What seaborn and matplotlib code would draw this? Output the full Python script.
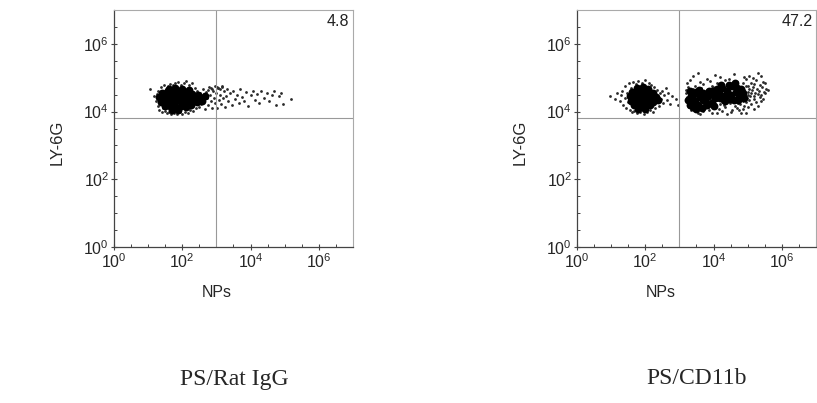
import numpy as np
import pandas as pd
import matplotlib.pyplot as plt
import seaborn as sns

# log10 values (x = NPs, y = LY-6G)
# PS/Rat IgG: dense core
igg_core_x = [1.60, 1.80, 2.00, 2.20,
              1.40, 1.55, 1.70, 1.85, 2.00, 2.15, 2.30, 2.45,
              1.32, 1.47, 1.62, 1.77, 1.92, 2.07, 2.22, 2.37, 2.52, 2.66,
              1.38, 1.53, 1.68, 1.83, 1.98, 2.13, 2.28, 2.43, 2.58,
              1.50, 1.65, 1.80, 1.95, 2.10, 2.25, 1.70, 1.88]
igg_core_y = [4.68, 4.70, 4.66, 4.64,
              4.55, 4.57, 4.53, 4.56, 4.54, 4.58, 4.52, 4.50,
              4.42, 4.40, 4.44, 4.41, 4.43, 4.40, 4.42, 4.39, 4.41, 4.45,
              4.29, 4.31, 4.28, 4.30, 4.27, 4.29, 4.31, 4.28, 4.30,
              4.16, 4.18, 4.14, 4.17, 4.15, 4.19, 4.06, 4.05]
# PS/Rat IgG: sparse events
igg_dot_x = [1.06, 1.18, 1.22, 1.25, 1.28, 1.30, 1.33, 1.36, 1.38, 1.40, 1.42, 1.45,
             1.48, 1.50, 1.52, 1.55, 1.58, 1.62, 1.65, 1.68, 1.72, 1.76, 1.80, 1.84,
             1.88, 1.92, 1.96, 2.00, 2.04, 2.08, 2.12, 2.16, 2.20, 2.24, 2.28, 2.32,
             2.36, 2.40, 2.44, 2.48, 2.52, 2.56, 2.60, 2.62, 2.65, 2.68, 2.70, 2.73,
             2.76, 2.79, 2.82, 2.85, 2.88, 2.91, 2.94, 2.97, 3.00, 3.03, 3.06, 3.08,
             3.11, 3.14, 3.17, 3.20, 3.23, 3.26, 3.29, 3.32, 3.35, 3.40, 3.45, 3.50,
             3.55, 3.60, 3.65, 3.70, 3.76, 3.82, 3.88, 3.94, 4.00, 4.06, 4.12, 4.18,
             4.25, 4.32, 4.40, 4.48, 4.55, 4.62, 4.70, 4.76, 4.82, 4.88, 4.95, 5.18,
             2.84, 2.88, 3.02, 3.06, 3.10, 2.75, 2.95, 3.15]
igg_dot_y = [4.66, 4.45, 4.30, 4.52, 4.18, 4.62, 4.05, 4.40, 4.72, 3.98, 4.58, 4.12,
             4.80, 4.02, 4.68, 3.95, 4.76, 4.00, 4.82, 3.92, 4.78, 3.97, 4.84, 3.94,
             4.88, 3.99, 4.80, 3.93, 4.86, 4.00, 4.90, 3.96, 4.78, 4.05, 4.84, 4.02,
             4.70, 4.10, 4.62, 4.15, 4.55, 4.22, 4.48, 4.68, 4.30, 4.08, 4.58, 4.40,
             4.20, 4.72, 4.50, 4.30, 4.12, 4.62, 4.40, 4.25, 4.55, 4.10, 4.70, 4.35,
             4.48, 4.22, 4.76, 4.40, 4.60, 4.15, 4.45, 4.68, 4.30, 4.55, 4.20, 4.62,
             4.38, 4.50, 4.25, 4.66, 4.42, 4.30, 4.58, 4.18, 4.48, 4.62, 4.35, 4.52,
             4.25, 4.60, 4.40, 4.55, 4.30, 4.48, 4.62, 4.20, 4.45, 4.55, 4.22, 4.38,
             4.70, 4.66, 4.74, 4.70, 4.68, 4.64, 4.76, 4.72]

# PS/CD11b: dense cores
cd_core_x = [1.75, 1.92, 2.08,
             1.62, 1.78, 1.94, 2.10, 2.24,
             1.55, 1.70, 1.86, 2.02, 2.18, 2.32,
             1.58, 1.74, 1.90, 2.06, 2.22, 2.36,
             1.66, 1.82, 1.98, 2.14, 1.80, 1.98,
             3.35, 3.45, 3.50, 3.40, 3.60, 3.55, 3.70, 3.75, 3.85, 3.30, 3.65,
             4.15, 4.25, 4.30, 4.40, 4.50, 4.55, 4.65, 4.75, 4.80, 4.35, 4.60,
             3.95, 4.05, 3.95,
             3.25, 3.32, 3.42, 3.58, 3.68, 3.80, 3.88, 4.00, 4.10, 4.20,
             4.22, 4.45, 4.48, 4.70, 4.72, 4.85, 4.90, 3.48, 4.00, 4.62]
cd_core_y = [4.70, 4.72, 4.68,
             4.58, 4.56, 4.60, 4.57, 4.55,
             4.45, 4.43, 4.46, 4.44, 4.45, 4.42,
             4.32, 4.30, 4.33, 4.31, 4.29, 4.34,
             4.19, 4.21, 4.18, 4.20, 4.08, 4.07,
             4.45, 4.30, 4.58, 4.15, 4.42, 4.20, 4.55, 4.30, 4.45, 4.62, 4.12,
             4.55, 4.70, 4.45, 4.62, 4.50, 4.75, 4.58, 4.45, 4.68, 4.30, 4.35,
             4.60, 4.40, 4.25,
             4.35, 4.20, 4.52, 4.65, 4.35, 4.20, 4.62, 4.50, 4.68, 4.40,
             4.80, 4.78, 4.38, 4.70, 4.35, 4.55, 4.40, 4.08, 4.18, 4.85]
# PS/CD11b: sparse events
cd_dot_x = [0.97, 1.12, 1.18, 1.25, 1.28, 1.32, 1.36, 1.40, 1.42, 1.45, 1.48, 1.50,
            1.52, 1.55, 1.58, 1.60, 1.64, 1.68, 1.72, 1.76, 1.80, 1.85, 1.90, 1.95,
            2.00, 2.05, 2.10, 2.14, 2.18, 2.22, 2.26, 2.30, 2.35, 2.40, 2.43, 2.46,
            2.50, 2.53, 2.56, 2.60, 2.64, 2.68, 2.72, 2.78, 2.90, 2.95,
            3.55, 4.05, 4.60, 5.05, 5.30,
            3.40, 3.80, 4.20, 4.45, 4.90, 5.15, 5.40,
            3.30, 3.60, 3.90, 4.10, 4.35, 4.70, 4.95, 5.10, 5.25, 5.45,
            3.22, 3.45, 3.70, 3.95, 4.15, 4.40, 4.85, 5.00, 5.20, 5.35, 5.50,
            3.25, 3.40, 3.62, 3.80, 3.98, 4.08, 4.95, 5.05, 5.15, 5.28, 5.42, 5.55,
            3.20, 3.38, 3.85, 4.00, 4.88, 5.00, 5.12, 5.22, 5.32, 5.48, 5.60,
            3.18, 3.28, 3.92, 4.05, 4.92, 5.02, 5.10, 5.20, 5.30, 5.40, 5.52,
            3.22, 3.90, 4.02, 4.20, 4.88, 4.98, 5.08, 5.18, 5.35, 5.45,
            3.20, 3.30, 3.88, 4.00, 4.10, 4.25, 4.45, 4.72, 4.85, 4.95, 5.05, 5.25, 5.40,
            3.25, 3.80, 3.92, 4.05, 4.18, 4.30, 4.48, 4.62, 4.78, 4.90, 5.10, 5.30,
            3.28, 3.50, 3.75, 3.88, 4.00, 4.15, 4.35, 4.55, 4.70, 4.85, 5.00, 5.20,
            3.35, 3.55, 3.70, 3.95, 4.25, 4.50, 4.75, 4.95,
            3.60, 4.10, 4.40, 4.80]
cd_dot_y = [4.45, 4.38, 4.55, 4.30, 4.48, 4.62, 4.20, 4.40, 4.75, 4.10, 4.55, 4.28,
            4.85, 4.05, 4.70, 3.98, 4.88, 4.02, 4.82, 3.95, 4.90, 3.98, 4.86, 3.92,
            4.92, 3.99, 4.85, 4.04, 4.80, 4.00, 4.72, 4.10, 4.65, 4.18, 4.55, 4.38,
            4.62, 4.25, 4.48, 4.70, 4.35, 4.55, 4.22, 4.45, 4.38, 4.20,
            5.14, 5.07, 5.11, 5.05, 5.13,
            5.04, 4.97, 5.01, 4.95, 5.03, 4.99, 5.05,
            4.94, 4.87, 4.91, 4.85, 4.93, 4.89, 4.95, 4.86, 4.92, 4.88,
            4.84, 4.77, 4.81, 4.75, 4.83, 4.79, 4.85, 4.76, 4.82, 4.78, 4.84,
            4.74, 4.67, 4.71, 4.65, 4.73, 4.69, 4.75, 4.66, 4.72, 4.68, 4.74, 4.67,
            4.64, 4.57, 4.61, 4.55, 4.63, 4.59, 4.65, 4.56, 4.62, 4.58, 4.64,
            4.54, 4.47, 4.51, 4.45, 4.53, 4.49, 4.55, 4.46, 4.52, 4.48, 4.54,
            4.44, 4.37, 4.41, 4.35, 4.43, 4.39, 4.45, 4.36, 4.42, 4.38,
            4.34, 4.27, 4.31, 4.25, 4.33, 4.29, 4.35, 4.26, 4.32, 4.28, 4.34, 4.27, 4.30,
            4.24, 4.17, 4.21, 4.15, 4.23, 4.19, 4.25, 4.16, 4.22, 4.18, 4.24, 4.17,
            4.14, 4.07, 4.11, 4.05, 4.13, 4.09, 4.15, 4.06, 4.12, 4.08, 4.14, 4.07,
            4.04, 3.97, 4.01, 3.95, 4.03, 3.99, 4.05, 3.96,
            3.93, 3.97, 3.92, 3.96]

panels = [
    ("PS/Rat IgG", "4.8", igg_core_x, igg_core_y, igg_dot_x, igg_dot_y),
    ("PS/CD11b", "47.2", cd_core_x, cd_core_y, cd_dot_x, cd_dot_y),
]
quad_x = 1e3
quad_y = 6.6e3

sns.set_style("white")
plt.rcParams['font.family'] = ['Liberation Sans', 'DejaVu Sans']

fig = plt.figure(figsize=(8.17, 4.03), dpi=100)
lefts = [0.1395, 0.7062]
label_x = [0.43, 0.35]
caption_x = [234 / 817, 697 / 817]

for i, (name, pct, cx, cy, dx, dy) in enumerate(panels):
    ax = fig.add_axes([lefts[i], 0.387, 0.2925, 0.588])
    core = pd.DataFrame({"NPs": 10 ** np.array(cx), "LY-6G": 10 ** np.array(cy)})
    dots = pd.DataFrame({"NPs": 10 ** np.array(dx), "LY-6G": 10 ** np.array(dy)})
    sns.scatterplot(data=dots, x="NPs", y="LY-6G", ax=ax, s=4, color="#2a2a2a",
                    linewidth=0, legend=False)
    sns.scatterplot(data=core, x="NPs", y="LY-6G", ax=ax, s=32, color="black",
                    linewidth=0, legend=False)
    ax.set_xscale("log")
    ax.set_yscale("log")
    ax.set_xlim(1, 1e7)
    ax.set_ylim(1, 1e7)
    ax.axvline(quad_x, color="#999999", lw=0.8)
    ax.axhline(quad_y, color="#999999", lw=0.8)

    majors = [1, 1e2, 1e4, 1e6]
    labels = [r"$\mathregular{10^{%d}}$" % k for k in [0, 2, 4, 6]]
    minors = [10 ** k for k in np.arange(0, 7.01, 0.5) if k not in (0, 2, 4, 6)]
    ax.set_xticks(majors, labels)
    ax.set_yticks(majors, labels)
    ax.set_xticks(minors, minor=True)
    ax.set_yticks(minors, minor=True)
    ax.tick_params(which="major", direction="inout", length=5, width=0.8,
                   color="#444444", labelsize=11.5, pad=1, bottom=True, left=True)
    ax.tick_params(which="minor", direction="in", length=2.5, width=0.7,
                   color="#444444", bottom=True, left=True, labelbottom=False,
                   labelleft=False)

    for side in ["left", "bottom"]:
        ax.spines[side].set_color("#444444")
        ax.spines[side].set_linewidth(0.9)
    for side in ["top", "right"]:
        ax.spines[side].set_color("#aaaaaa")
        ax.spines[side].set_linewidth(0.8)

    ax.set_xlabel("NPs", fontsize=11.5)
    ax.set_ylabel("LY-6G", fontsize=12)
    ax.xaxis.set_label_coords(label_x[i], -0.16)
    ax.yaxis.set_label_coords(-0.205, 0.44)
    ax.text(0.985, 0.985, pct, transform=ax.transAxes, ha="right", va="top",
            fontsize=11.5, color="#222222")

    fig.text(caption_x[i], 1 - 379 / 403, name, ha="center", va="center",
             fontsize=17, family=["Liberation Serif", "DejaVu Serif"])

fig.savefig("out.png", dpi=100)
